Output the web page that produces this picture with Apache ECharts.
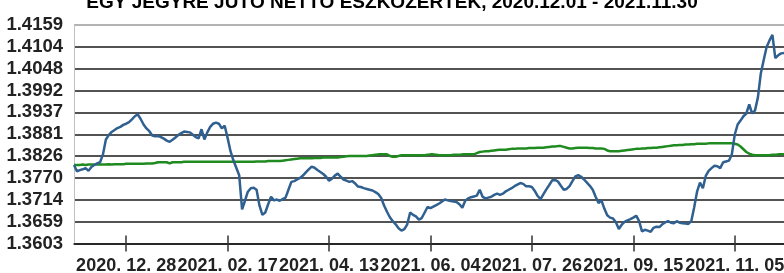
<!DOCTYPE html>
<html>
<head>
<meta charset="utf-8">
<script src="https://cdn.jsdelivr.net/npm/echarts@6/dist/echarts.min.js"></script>
<style>
  html, body { margin: 0; padding: 0; background: #fff; }
  #chart { width: 784px; height: 273px; }
</style>
</head>
<body>
<div id="chart"></div>
<script>
// napi nettó eszközérték (kék) és összehasonlító (zöld)
var nav = [
  1.3803, 1.3787, 1.3790, 1.3792, 1.3795, 1.3788, 1.3798, 1.3803, 1.3807, 1.3810,
  1.3830, 1.3868, 1.3879, 1.3887, 1.3892, 1.3897, 1.3900, 1.3905, 1.3908, 1.3912,
  1.3919, 1.3927, 1.3932, 1.3920, 1.3906, 1.3896, 1.3889, 1.3878, 1.3876, 1.3877,
  1.3874, 1.3870, 1.3865, 1.3862, 1.3867, 1.3873, 1.3879, 1.3884, 1.3888, 1.3887,
  1.3886, 1.3880, 1.3874, 1.3871, 1.3894, 1.3868, 1.3886, 1.3900, 1.3908, 1.3911,
  1.3908, 1.3896, 1.3903, 1.3872, 1.3838, 1.3815, 1.3796, 1.3777, 1.3690, 1.3712,
  1.3735, 1.3744, 1.3745, 1.3740, 1.3700, 1.3676, 1.3682, 1.3703, 1.3722, 1.3713,
  1.3715, 1.3712, 1.3716, 1.3720, 1.3740, 1.3760, 1.3762, 1.3766, 1.3770, 1.3776,
  1.3784, 1.3792, 1.3799, 1.3796, 1.3790, 1.3785, 1.3780, 1.3773, 1.3763, 1.3768,
  1.3776, 1.3781, 1.3773, 1.3766, 1.3763, 1.3760, 1.3762, 1.3756, 1.3748, 1.3747,
  1.3744, 1.3742, 1.3740, 1.3738, 1.3734, 1.3729, 1.3719, 1.3700, 1.3684, 1.3670,
  1.3660, 1.3652, 1.3642, 1.3636, 1.3640, 1.3652, 1.3682, 1.3676, 1.3672, 1.3664,
  1.3668, 1.3682, 1.3696, 1.3693, 1.3697, 1.3701, 1.3705, 1.3710, 1.3715, 1.3713,
  1.3711, 1.3710, 1.3709, 1.3703, 1.3694, 1.3712, 1.3718, 1.3721, 1.3723, 1.3725,
  1.3740, 1.3722, 1.3718, 1.3720, 1.3722, 1.3727, 1.3730, 1.3727, 1.3730, 1.3736,
  1.3740, 1.3744, 1.3749, 1.3753, 1.3757, 1.3755, 1.3749, 1.3749, 1.3747, 1.3737,
  1.3724, 1.3716, 1.3729, 1.3741, 1.3752, 1.3764, 1.3765, 1.3761, 1.3750, 1.3740,
  1.3742, 1.3749, 1.3762, 1.3774, 1.3777, 1.3773, 1.3766, 1.3758, 1.3750, 1.3740,
  1.3722, 1.3706, 1.3713, 1.3692, 1.3675, 1.3669, 1.3667, 1.3657, 1.3640, 1.3651,
  1.3658, 1.3662, 1.3665, 1.3669, 1.3674, 1.3660, 1.3634, 1.3638, 1.3636, 1.3633,
  1.3643, 1.3646, 1.3645, 1.3652, 1.3657, 1.3660, 1.3656, 1.3655, 1.3660, 1.3656,
  1.3655, 1.3654, 1.3653, 1.3660, 1.3695, 1.3735, 1.3758, 1.3744, 1.3775, 1.3788,
  1.3795, 1.3801, 1.3800, 1.3795, 1.3810, 1.3812, 1.3814, 1.3830, 1.3880, 1.3906,
  1.3916, 1.3927, 1.3934, 1.3957, 1.3934, 1.3942, 1.3975, 1.4036, 1.4070, 1.4103,
  1.4120, 1.4134, 1.4075, 1.4082, 1.4087, 1.4088
];

var bench = [
  1.3803, 1.3803, 1.3803, 1.3804, 1.3803, 1.3804, 1.3804, 1.3804, 1.3804, 1.3804,
  1.3804, 1.3804, 1.3805, 1.3804, 1.3805, 1.3805, 1.3805, 1.3805, 1.3806, 1.3806,
  1.3806, 1.3806, 1.3806, 1.3806, 1.3806, 1.3807, 1.3807, 1.3807, 1.3808, 1.3810,
  1.3810, 1.3810, 1.3810, 1.3807, 1.3810, 1.3810, 1.3810, 1.3810, 1.3811, 1.3811,
  1.3811, 1.3811, 1.3811, 1.3811, 1.3811, 1.3811, 1.3811, 1.3811, 1.3811, 1.3811,
  1.3811, 1.3811, 1.3811, 1.3811, 1.3811, 1.3811, 1.3811, 1.3811, 1.3811, 1.3811,
  1.3811, 1.3811, 1.3811, 1.3812, 1.3812, 1.3812, 1.3812, 1.3813, 1.3813, 1.3813,
  1.3813, 1.3813, 1.3814, 1.3815, 1.3816, 1.3817, 1.3818, 1.3819, 1.3820, 1.3820,
  1.3820, 1.3820, 1.3820, 1.3821, 1.3821, 1.3821, 1.3822, 1.3822, 1.3822, 1.3822,
  1.3822, 1.3822, 1.3823, 1.3824, 1.3825, 1.3826, 1.3826, 1.3826, 1.3826, 1.3826,
  1.3826, 1.3826, 1.3827, 1.3828, 1.3829, 1.3830, 1.3830, 1.3830, 1.3830, 1.3826,
  1.3824, 1.3824, 1.3826, 1.3828, 1.3828, 1.3828, 1.3828, 1.3828, 1.3828, 1.3828,
  1.3828, 1.3828, 1.3829, 1.3830, 1.3830, 1.3829, 1.3828, 1.3828, 1.3828, 1.3828,
  1.3828, 1.3829, 1.3829, 1.3829, 1.3830, 1.3830, 1.3830, 1.3830, 1.3830, 1.3833,
  1.3836, 1.3837, 1.3838, 1.3838, 1.3839, 1.3840, 1.3841, 1.3842, 1.3842, 1.3842,
  1.3843, 1.3844, 1.3844, 1.3845, 1.3845, 1.3845, 1.3845, 1.3846, 1.3846, 1.3846,
  1.3847, 1.3847, 1.3847, 1.3848, 1.3849, 1.3850, 1.3850, 1.3851, 1.3851, 1.3849,
  1.3847, 1.3845, 1.3845, 1.3846, 1.3847, 1.3847, 1.3847, 1.3847, 1.3846, 1.3846,
  1.3845, 1.3845, 1.3845, 1.3844, 1.3840, 1.3838, 1.3838, 1.3838, 1.3838, 1.3839,
  1.3840, 1.3841, 1.3842, 1.3843, 1.3844, 1.3844, 1.3845, 1.3845, 1.3846, 1.3846,
  1.3847, 1.3847, 1.3848, 1.3849, 1.3850, 1.3851, 1.3852, 1.3853, 1.3853, 1.3854,
  1.3854, 1.3855, 1.3855, 1.3856, 1.3856, 1.3857, 1.3857, 1.3857, 1.3857, 1.3858,
  1.3858, 1.3858, 1.3858, 1.3858, 1.3858, 1.3858, 1.3858, 1.3858, 1.3857, 1.3855,
  1.3850, 1.3843, 1.3836, 1.3832, 1.3829, 1.3828, 1.3828, 1.3828, 1.3828, 1.3828,
  1.3828, 1.3829, 1.3829, 1.3830, 1.3830, 1.3830
];

var tickLabels = ['2020. 12. 28', '2021. 02. 17', '2021. 04. 13', '2021. 06. 04',
                  '2021. 07. 26', '2021. 09. 15', '2021. 11. 05'];
var firstTick = 18, tickStep = 35;

var days = nav.map(function (v, i) { return String(i); });

function isTick(i) {
  return i >= firstTick && (i - firstTick) % tickStep === 0;
}

var myChart = echarts.init(document.getElementById('chart'));

var gridColors = [];
for (var k = 0; k < 10; k++) gridColors.push('#1a1a1a');
gridColors.push('#9a9a9a');

var option = {
  animation: false,
  backgroundColor: '#fff',
  title: {
    text: 'EGY JEGYRE JUTÓ NETTÓ ESZKÖZÉRTÉK, 2020.12.01 - 2021.11.30',
    left: 'center',
    top: -12,
    textStyle: {
      fontFamily: 'Liberation Sans, Arial, sans-serif',
      fontSize: 19,
      fontWeight: 'bold',
      color: '#000'
    }
  },
  grid: { left: 74, right: 0, top: 25, bottom: 29.5, outerBoundsMode: 'none' },
  xAxis: [{
    type: 'category',
    data: days,
    boundaryGap: false,
    axisLine: { lineStyle: { color: '#1a1a1a', width: 1.5 } },
    axisTick: { interval: function (i) { return isTick(i); }, length: 8, lineStyle: { color: '#333', width: 1.5 } },
    axisLabel: {
      interval: function (i) { return isTick(i); },
      formatter: function (v, i) { return tickLabels[(i - firstTick) / tickStep] || ''; },
      fontFamily: 'Liberation Sans, Arial, sans-serif',
      fontSize: 18,
      lineHeight: 14,
      fontWeight: 'bold',
      color: '#222',
      margin: 16,
      hideOverlap: false
    },
    splitLine: { show: false }
  }, {
    type: 'category',
    data: days,
    position: 'bottom',
    boundaryGap: false,
    axisLine: { show: false },
    axisTick: { inside: true, interval: function (i) { return isTick(i); }, length: 8, lineStyle: { color: '#333', width: 1.5 } },
    axisLabel: { show: false },
    splitLine: { show: false }
  }],
  yAxis: {
    type: 'value',
    min: 1.36032,
    max: 1.41592,
    interval: 0.00556,
    axisLine: { show: true, lineStyle: { color: '#c0c0c0', width: 1 } },
    axisTick: { show: false },
    axisLabel: {
      formatter: function (v) { return v.toFixed(4); },
      fontFamily: 'Liberation Sans, Arial, sans-serif',
      fontSize: 18.5,
      lineHeight: 14,
      fontWeight: 'bold',
      color: '#222',
      margin: 11,
      hideOverlap: false
    },
    splitLine: { show: true, lineStyle: { color: gridColors, width: 1.5 } }
  },
  series: [
    {
      name: 'benchmark',
      type: 'line',
      data: bench,
      showSymbol: false,
      lineStyle: { color: '#1f8a1f', width: 2.5 },
      z: 3
    },
    {
      name: 'nav',
      type: 'line',
      data: nav,
      showSymbol: false,
      lineStyle: { color: '#2f6090', width: 2.5 },
      z: 4
    }
  ]
};

myChart.setOption(option);
</script>
</body>
</html>
